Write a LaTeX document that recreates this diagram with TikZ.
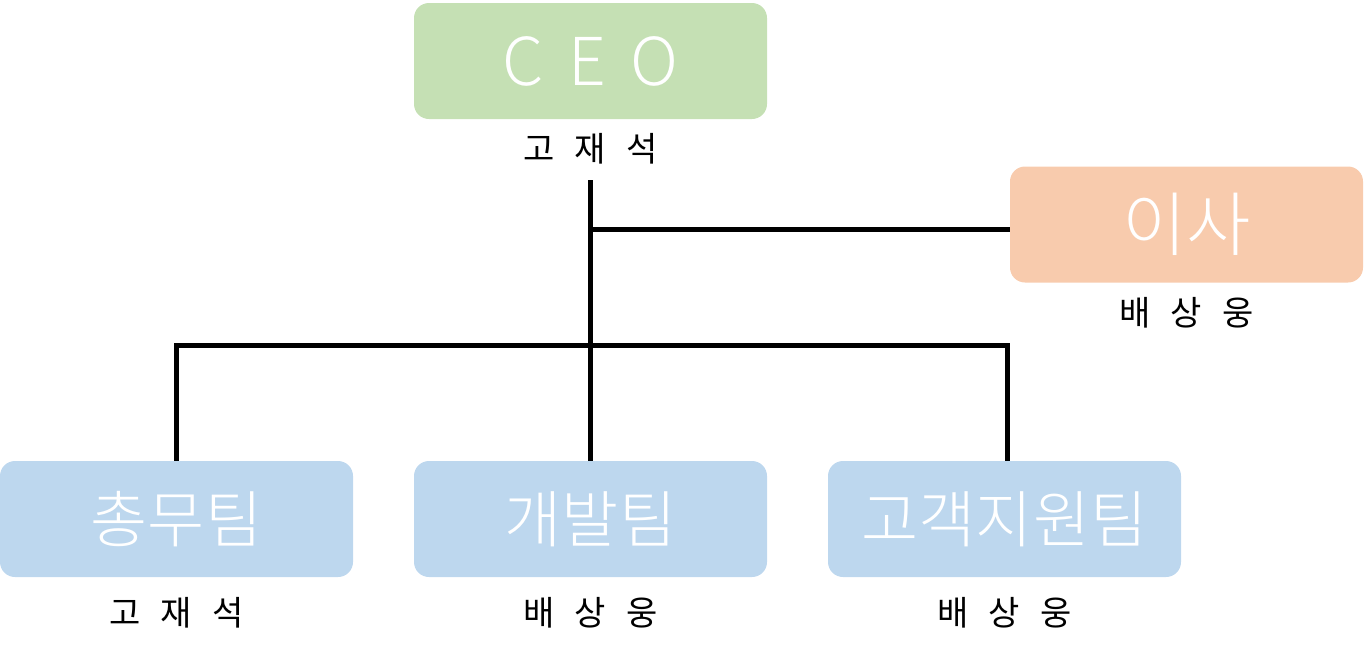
\documentclass[tikz,border=0pt]{standalone}
\usepackage{fontspec}
\setmainfont{Noto Sans CJK KR}
\newfontfamily\unitfont{Noto Sans CJK KR Light}
\newfontfamily\ceofont[WordSpace=1.7]{Noto Sans CJK KR Light}
\newfontfamily\namefont[WordSpace=2.7]{Noto Sans CJK KR}
\usetikzlibrary{positioning}
\definecolor{ceogreen}{HTML}{C5E0B4}
\definecolor{boardorange}{HTML}{F8CBAD}
\definecolor{teamblue}{HTML}{BDD7EE}

\begin{document}
\begin{tikzpicture}[x=1pt, y=-1pt, node distance=14pt]
    \tikzset{unit/.style={rounded corners=15pt, minimum width=353pt, minimum height=116pt, inner sep=0pt, text=white, font=\unitfont\fontsize{62}{72}\selectfont}}
    \tikzset{person/.style={inner sep=0pt, font=\namefont\fontsize{34}{40}\selectfont}}
    \tikzset{link/.style={line width=5pt}}
    \useasboundingbox (0,0) rectangle (1364,657);

    \node[unit, fill=ceogreen, font=\ceofont\fontsize{66}{76}\selectfont] (ceo) at (590.5,61) {C E O};
    \node[person, below=of ceo] (ceoname) {고 재 석};

    \node[unit, fill=boardorange, font=\unitfont\fontsize{70}{80}\selectfont] (board) at (1186.5,224.5) {이사};
    \node[person, below=of board] (boardname) {배 상 웅};

    \node[unit, fill=teamblue] (general) at (176.5,519) {총무팀};
    \node[unit, fill=teamblue] (dev)     at (590.5,519) {개발팀};
    \node[unit, fill=teamblue] (support) at (1004.5,519) {고객지원팀};
    \node[person, below=20pt of general] (generalname) {고 재 석};
    \node[person, below=20pt of dev]     (devname)     {배 상 웅};
    \node[person, below=20pt of support] (supportname) {배 상 웅};

    \coordinate (bus) at (0,345);
    \draw[link] ([yshift=-16pt]ceoname.south) -- (dev.north);
    \draw[link] (ceo.south |- board.west) ++(0,4.5) -- ([yshift=-4.5pt]board.west);
    \draw[link] (general.north) -- (general.north |- bus) -- ([xshift=3pt]support.north |- bus) -- ([xshift=3pt]support.north);
\end{tikzpicture}
\end{document}
